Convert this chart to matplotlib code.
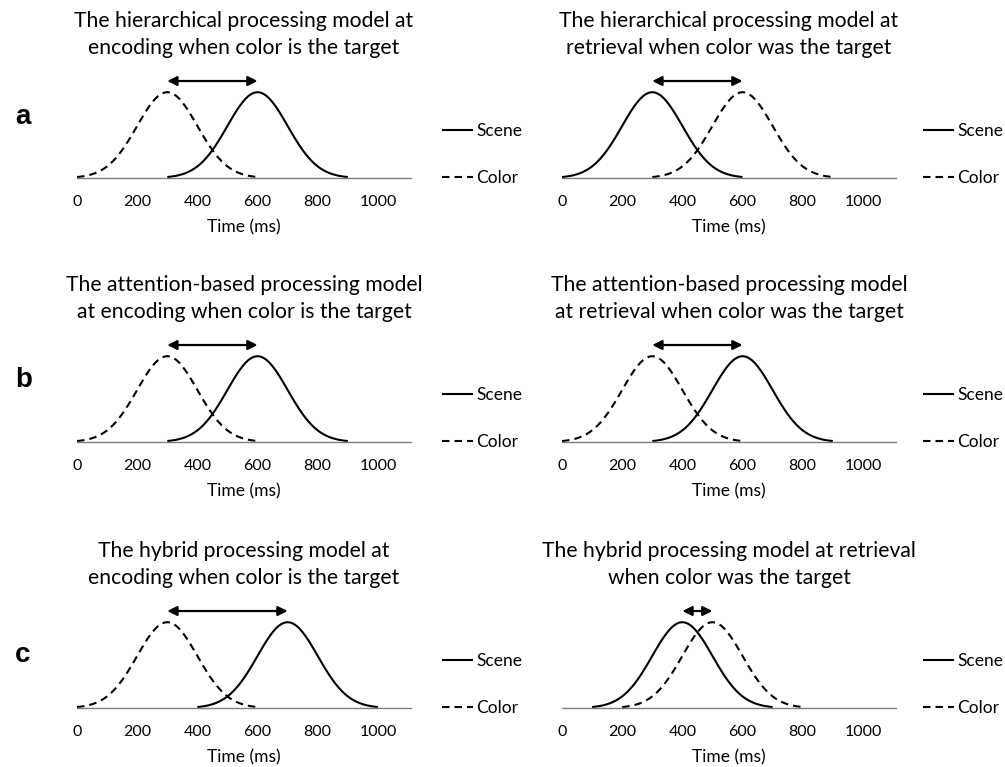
"""
Three processing models (hierarchical, attention-based, hybrid):
timing of scene and color processing at encoding and at retrieval.
"""
import numpy as np
import matplotlib
matplotlib.use('Agg')
import matplotlib.pyplot as plt

plt.rcParams['font.family'] = ['Lato', 'DejaVu Sans']

# Shape of each processing curve:
# relative height at 0, 10, 20 ... 300 ms from the peak (same on both sides)
offsets_ms = list(range(0, 310, 10))
bump_height = [1.000, 0.995, 0.980, 0.956, 0.923, 0.882, 0.835, 0.783, 0.726, 0.667,
               0.607, 0.546, 0.487, 0.430, 0.375, 0.325, 0.278, 0.236, 0.198, 0.164,
               0.135, 0.110, 0.089, 0.071, 0.056, 0.044, 0.034, 0.026, 0.020, 0.015,
               0.011]

row_letters = ['a', 'b', 'c']
titles = [
    ['The hierarchical processing model at\nencoding when color is the target',
     'The hierarchical processing model at\nretrieval when color was the target'],
    ['The attention-based processing model\nat encoding when color is the target',
     'The attention-based processing model\nat retrieval when color was the target'],
    ['The hybrid processing model at\nencoding when color is the target',
     'The hybrid processing model at retrieval\nwhen color was the target'],
]
# peak latency (ms) of each curve, per row / column
scene_peaks = [[600, 300], [600, 600], [700, 400]]
color_peaks = [[300, 600], [300, 300], [300, 500]]
# double arrow end points (ms)
arrow_from = [[300, 300], [300, 300], [300, 400]]
arrow_to = [[600, 600], [600, 600], [700, 500]]

tick_values = [0, 200, 400, 600, 800, 1000]

# full symmetric profile
rel_x = np.array([-o for o in offsets_ms[::-1]] + offsets_ms[1:])
rel_y = np.array(bump_height[::-1] + bump_height[1:])

W, H = 1005, 767
fig = plt.figure(figsize=(W / 100, H / 100), dpi=100)

col_left_px = [77, 562]
legend_x = [1.093, 1.081]
axis_w_px = 334
axis_h_px = 103
row_base_px = [178, 442, 708]
letter_y_px = [117, 380, 655]

for r in range(3):
    fig.text(15 / W, 1 - letter_y_px[r] / H, row_letters[r], fontsize=20,
             fontweight='bold', family='Liberation Sans', va='center', ha='left')
    for c in range(2):
        ax = fig.add_axes([col_left_px[c] / W, 1 - row_base_px[r] / H,
                           axis_w_px / W, axis_h_px / H])
        sp = scene_peaks[r][c]
        cp = color_peaks[r][c]
        ax.plot(sp + rel_x, rel_y, color='black', linewidth=1.5, label='Scene',
                solid_capstyle='butt')
        ax.plot(cp + rel_x, rel_y, color='black', linewidth=1.5, label='Color',
                linestyle=(0, (3.6, 2.4)))

        ax.annotate('', xy=(arrow_to[r][c], 1.13), xytext=(arrow_from[r][c], 1.13),
                    arrowprops=dict(arrowstyle='<|-|>', color='black', lw=1.6,
                                    mutation_scale=14, shrinkA=0, shrinkB=0),
                    annotation_clip=False)

        ax.set_xlim(0, 1110)
        ax.set_ylim(0, 1.2)
        for s in ['top', 'right', 'left']:
            ax.spines[s].set_visible(False)
        ax.spines['bottom'].set_color('#7f7f7f')
        ax.spines['bottom'].set_linewidth(1.0)
        ax.set_yticks([])
        ax.set_xticks(tick_values)
        ax.tick_params(axis='x', length=0, pad=12, labelsize=11.5)
        ax.set_xlabel('Time (ms)', fontsize=12.5, labelpad=8)
        ax.set_title(titles[r][c], fontsize=15.2, pad=15, linespacing=1.45)
        ax.patch.set_alpha(0)

        ax.legend(loc='center left', bbox_to_anchor=(legend_x[c], 0.225), frameon=False,
                  fontsize=12.5, handlelength=1.78, handletextpad=0.17,
                  labelspacing=1.8, borderpad=0, borderaxespad=0)

fig.savefig('out.png', dpi=100)
